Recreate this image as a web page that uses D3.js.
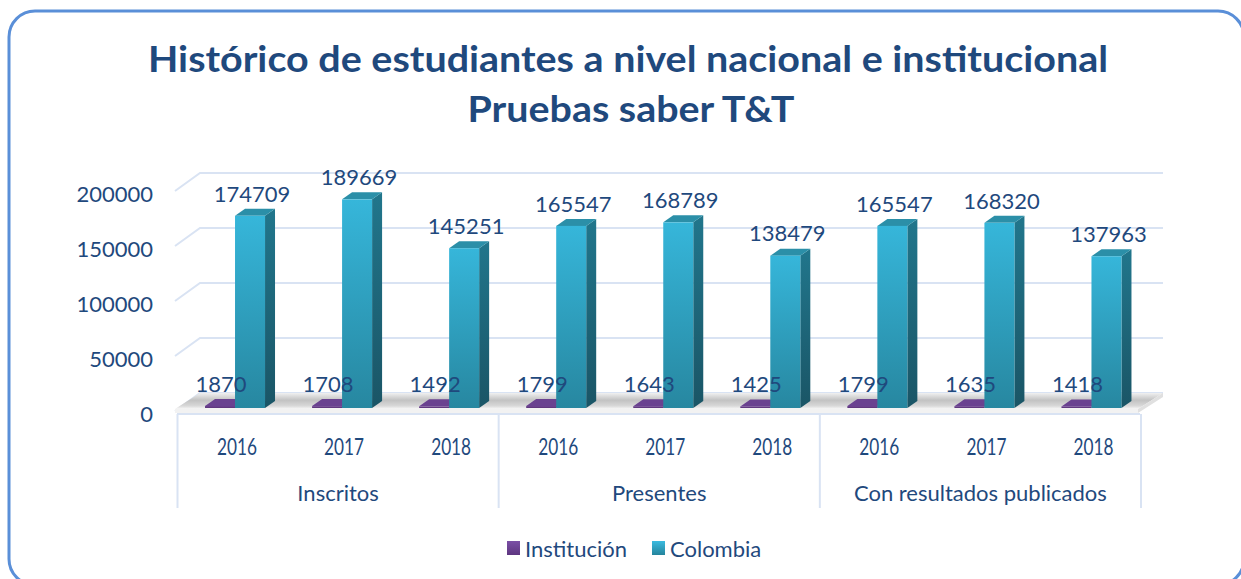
<!DOCTYPE html>
<html>
<head>
<meta charset="utf-8">
<script src="https://cdn.jsdelivr.net/npm/d3@7"></script>
<style>
  body { margin: 0; background: #fff; }
  text { font-family: Lato, "Open Sans", sans-serif; }
</style>
</head>
<body>
<div class="visholder"></div>
<script>
let width = 1241,
    height = 579;

const groups = ["Inscritos", "Presentes", "Con resultados publicados"];
const years = ["2016", "2017", "2018", "2016", "2017", "2018", "2016", "2017", "2018"];
const institucion = [1870, 1708, 1492, 1799, 1643, 1425, 1799, 1635, 1418];
const colombia = [174709, 189669, 145251, 165547, 168789, 138479, 165547, 168320, 137963];
const yTicks = [0, 50000, 100000, 150000, 200000];
const seriesNames = ["Institución", "Colombia"];

const textColor = "#1f497d";
const depthX = 25, depthY = -18;   // back wall offset
const barDX = 10, barDY = -7;      // bar depth

var svg = d3.select(".visholder")
    .append("svg")
    .attr("width", width)
    .attr("height", height);

var defs = svg.append("defs");

function gradient(id, stops, x2, y2) {
    var g = defs.append("linearGradient").attr("id", id)
        .attr("x1", 0).attr("y1", 0).attr("x2", x2).attr("y2", y2);
    stops.forEach(function (s) {
        g.append("stop").attr("offset", s[0]).attr("stop-color", s[1]);
    });
}
gradient("colFront", [[0, "#36b6da"], [1, "#2787a0"]], 0, 1);
gradient("colSide", [[0, "#21768c"], [1, "#1a5566"]], 0, 1);
gradient("purFront", [[0, "#6e4394"], [1, "#5b3478"]], 0, 1);
gradient("floorG", [[0, "#f0f0f0"], [0.45, "#c2c2c2"], [0.8, "#d8d8d8"], [1, "#f7f7f7"]], 0, 1);
gradient("legPur", [[0, "#7b4fa6"], [1, "#5e3680"]], 0, 1);
gradient("legCol", [[0, "#3bbbe0"], [1, "#25849c"]], 0, 1);

// outer rounded frame
svg.append("rect")
    .attr("x", 9).attr("y", 11)
    .attr("width", 1235).attr("height", 574)
    .attr("rx", 26)
    .attr("fill", "#fff")
    .attr("stroke", "#5a8fd8")
    .attr("stroke-width", 3);

// title
svg.append("text")
    .attr("x", 628).attr("y", 72)
    .attr("text-anchor", "middle")
    .attr("font-size", 36).attr("font-weight", "bold")
    .attr("textLength", 960).attr("lengthAdjust", "spacingAndGlyphs")
    .attr("fill", textColor)
    .text("Histórico de estudiantes a nivel nacional e institucional");
svg.append("text")
    .attr("x", 631).attr("y", 122)
    .attr("text-anchor", "middle")
    .attr("font-size", 36).attr("font-weight", "bold")
    .attr("textLength", 327).attr("lengthAdjust", "spacingAndGlyphs")
    .attr("fill", textColor)
    .text("Pruebas saber T&T");

var x = d3.scaleBand().domain(d3.range(9)).range([181.5, 1145]);
var y = d3.scaleLinear().domain([0, 200000]).range([411, 191]);
var xLeft = 175, xRight = 1138;

// back wall gridlines
var grid = svg.append("g").attr("class", "grid");
yTicks.forEach(function (t) {
    grid.append("polyline")
        .attr("points", [[xLeft, y(t)], [xLeft + depthX, y(t) + depthY], [xRight + depthX, y(t) + depthY]].join(" "))
        .attr("fill", "none")
        .attr("stroke", "#d9e3f3")
        .attr("stroke-width", 2);
});

// floor
var fy = y(0) - 2;
svg.append("polygon")
    .attr("points", [[xLeft, fy], [xLeft + depthX, fy + depthY + 2], [xRight + depthX, fy + depthY + 2], [xRight, fy]].join(" "))
    .attr("fill", "url(#floorG)");
svg.append("polygon")
    .attr("points", [[xLeft, fy], [xRight, fy], [xRight, fy + 4], [xLeft, fy + 4]].join(" "))
    .attr("fill", "#f2f2f2");
svg.append("polygon")
    .attr("points", [[xRight, fy], [xRight + depthX, fy + depthY + 2], [xRight + depthX, fy + depthY + 6], [xRight, fy + 4]].join(" "))
    .attr("fill", "#e0e0e0");

// y axis labels
svg.append("g").selectAll("text")
    .data(yTicks)
    .enter()
    .append("text")
    .attr("x", 153)
    .attr("y", function (d) { return y(d) + 3; })
    .attr("dy", "0.35em")
    .attr("text-anchor", "end")
    .attr("font-size", 22)
    .attr("fill", textColor)
    .text(function (d) { return d; });

// category axis
var axisY = y(0) + 3;
var axis = svg.append("g").attr("class", "x axis");
axis.append("line")
    .attr("x1", xLeft + 2).attr("x2", xRight + 2)
    .attr("y1", axisY).attr("y2", axisY)
    .attr("stroke", "#d9e3f3").attr("stroke-width", 2);
[0, 3, 6, 9].forEach(function (i) {
    var xx = i < 9 ? x(i) - 4 : x.range()[1] - 4;
    axis.append("line")
        .attr("x1", xx).attr("x2", xx)
        .attr("y1", axisY).attr("y2", 508)
        .attr("stroke", "#d9e3f3").attr("stroke-width", 2);
});
axis.selectAll(".year")
    .data(years)
    .enter()
    .append("text")
    .attr("class", "year")
    .attr("x", function (d, i) { return x(i) + x.bandwidth() / 2 + 2; })
    .attr("y", 447)
    .attr("dy", "0.35em")
    .attr("text-anchor", "middle")
    .attr("font-size", 23)
    .attr("textLength", 40).attr("lengthAdjust", "spacingAndGlyphs")
    .attr("fill", textColor)
    .text(function (d) { return d; });
axis.selectAll(".group")
    .data(groups)
    .enter()
    .append("text")
    .attr("class", "group")
    .attr("x", function (d, i) { return (x(i * 3) + x(i * 3 + 2) + x.bandwidth()) / 2 - 4; })
    .attr("y", 493)
    .attr("dy", "0.35em")
    .attr("text-anchor", "middle")
    .attr("font-size", 22)
    .attr("fill", textColor)
    .text(function (d) { return d; });

// 3D bars
var barW = 30;
var base = y(0) - 3;
function drawBar(g, x0, v, front, side, top) {
    var yt = base - (y(0) - y(v));
    g.append("polygon")
        .attr("points", [[x0 + barW, yt], [x0 + barW + barDX, yt + barDY], [x0 + barW + barDX, base + barDY], [x0 + barW, base]].join(" "))
        .attr("fill", side);
    g.append("polygon")
        .attr("points", [[x0, yt], [x0 + barDX, yt + barDY], [x0 + barW + barDX, yt + barDY], [x0 + barW, yt]].join(" "))
        .attr("fill", top);
    g.append("rect")
        .attr("x", x0).attr("y", yt)
        .attr("width", barW).attr("height", base - yt)
        .attr("fill", front);
    return yt;
}

var bars = svg.append("g").attr("class", "bars");
d3.range(9).forEach(function (i) {
    var c = x(i) + x.bandwidth() / 2;
    var g = bars.append("g");
    var t1 = drawBar(g, c - barW, institucion[i], "url(#purFront)", "#4a2a63", "#6a4290");
    var t2 = drawBar(g, c, colombia[i], "url(#colFront)", "url(#colSide)", "#2b8fa8");
    g.append("text")
        .attr("x", c - barW / 2 + 1)
        .attr("y", t1 - 22)
        .attr("dy", "0.35em")
        .attr("text-anchor", "middle")
        .attr("font-size", 22)
        .attr("fill", textColor)
        .text(institucion[i]);
    g.append("text")
        .attr("x", c + barW / 2 + 2)
        .attr("y", t2 - 22)
        .attr("dy", "0.35em")
        .attr("text-anchor", "middle")
        .attr("font-size", 22)
        .attr("fill", textColor)
        .text(colombia[i]);
});

// legend
var legend = svg.append("g").attr("id", "legend");
var legX = [507, 652];
seriesNames.forEach(function (name, i) {
    legend.append("rect")
        .attr("x", legX[i]).attr("y", 541)
        .attr("width", 13).attr("height", 14)
        .attr("fill", i === 0 ? "url(#legPur)" : "url(#legCol)");
    legend.append("text")
        .attr("x", legX[i] + 18).attr("y", 549)
        .attr("dy", "0.35em")
        .attr("font-size", 22)
        .attr("fill", textColor)
        .text(name);
});
</script>
</body>
</html>
